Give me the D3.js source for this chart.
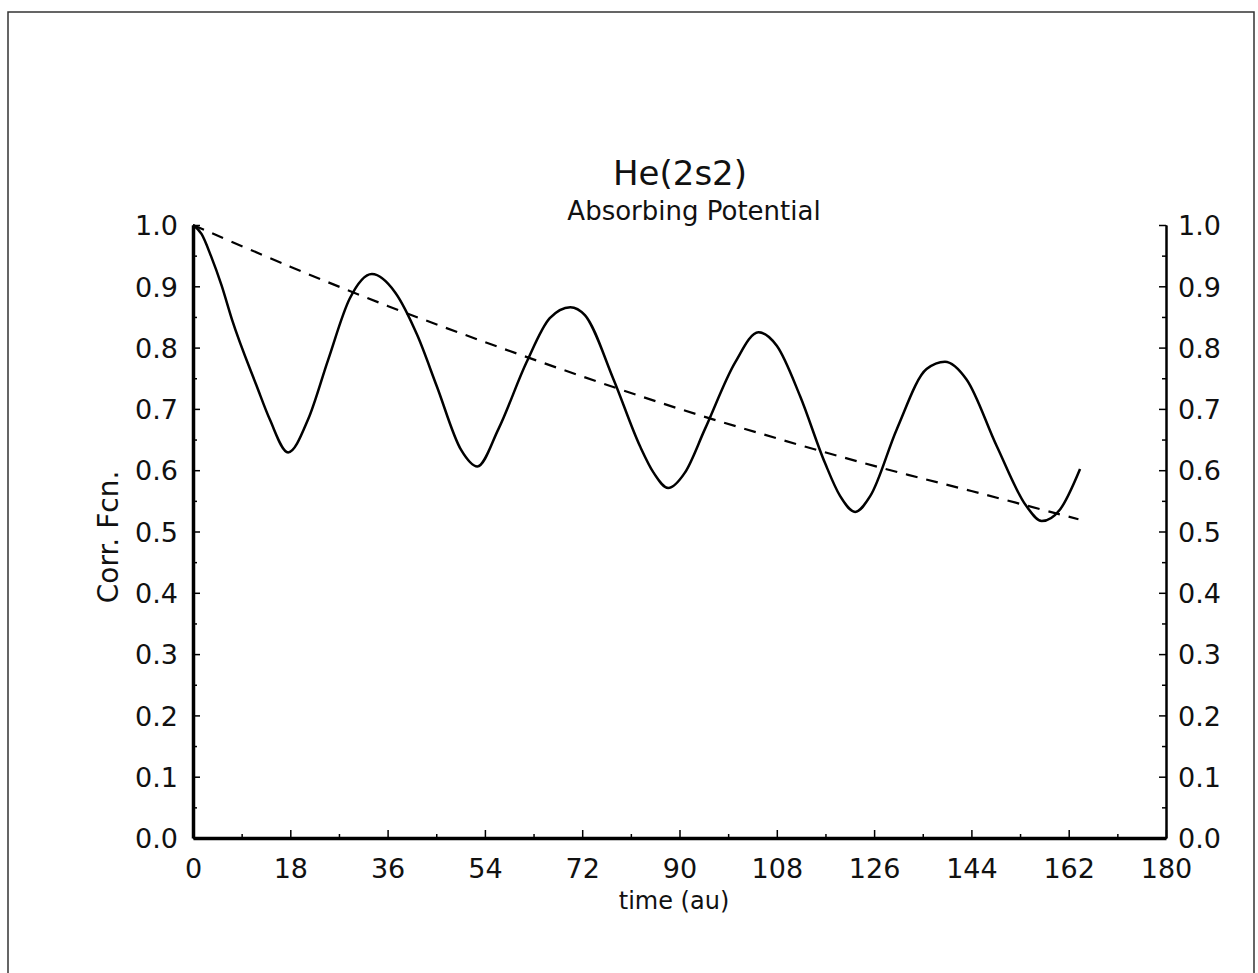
<!DOCTYPE html>
<html>
<head>
<meta charset="utf-8">
<script src="https://cdn.jsdelivr.net/npm/d3@7"></script>
<style>
  body { margin: 0; background: #fff; }
  svg { display: block; }
  text { font-family: "DejaVu Sans", sans-serif; fill: #111; }
</style>
</head>
<body>
<div id="chart"></div>
<script>

// correlation function, solid line (time in au)
const corrTime = [0, 1.6, 3.3, 5.3, 7.2, 11.8, 14.2, 17.6,
    21.3, 25.0, 29.0, 33.1,
    37.4, 41.5, 45.1, 49.6, 52.6,
    56.5, 61.7, 66.0, 69.8,
    72.5, 77.8, 82.7, 85.2, 87.9,
    91.0, 94.7, 100.3, 104.6,
    108.0, 112.3, 116.9, 119.7, 122.5,
    125.3, 130.2, 135.7, 139.1,
    143.1, 148.7, 154.2, 157.0,
    160.4, 164.1]
const corrValue = [1.0, 0.985, 0.950, 0.901, 0.846, 0.737, 0.683, 0.629,
    0.683, 0.780, 0.880, 0.920,
    0.890, 0.820, 0.737, 0.633, 0.606,
    0.667, 0.776, 0.848, 0.866,
    0.853, 0.748, 0.639, 0.596, 0.571,
    0.596, 0.667, 0.776, 0.825,
    0.803, 0.721, 0.612, 0.558, 0.532,
    0.558, 0.667, 0.765, 0.777,
    0.748, 0.639, 0.541, 0.517,
    0.536, 0.602]

// envelope, dashed line
const envTime = [0, 18, 36, 54, 72, 90, 108, 126, 144, 163.8]
const envValue = [1.0, 0.932, 0.868, 0.809, 0.753, 0.700, 0.652, 0.607, 0.566, 0.520]

const xMajorTicks = [0, 18, 36, 54, 72, 90, 108, 126, 144, 162, 180]
const xMinorTicks = [9, 27, 45, 63, 81, 99, 117, 135, 153, 171]
const yMajorTicks = [0, 0.1, 0.2, 0.3, 0.4, 0.5, 0.6, 0.7, 0.8, 0.9, 1.0]
const yMinorTicks = [0.05, 0.15, 0.25, 0.35, 0.45, 0.55, 0.65, 0.75, 0.85, 0.95]

const titleText = "He(2s2)"
const subtitleText = "Absorbing Potential"
const xLabel = "time (au)"
const yLabel = "Corr. Fcn."


var width = 1258
var height = 973

var svg = d3.select("#chart").append("svg")
    .attr("width", width)
    .attr("height", height)

// scan frame around the page
svg.append("path")
    .attr("d", "M8,973 L8,12 L1254,12 L1254,973")
    .attr("fill", "none")
    .attr("stroke", "#333")
    .attr("stroke-width", 1.5)

var x = d3.scaleLinear().domain([0, 180]).range([193, 1166])
var y = d3.scaleLinear().domain([0, 1]).range([838, 225])

const fmt = d3.format(".1f")

// minor ticks first, no labels
svg.append("g")
    .attr("transform", `translate(0,${y(0)})`)
    .call(d3.axisBottom(x).tickValues(xMinorTicks).tickSize(-4).tickFormat(""))
svg.append("g")
    .attr("transform", `translate(${x(0)},0)`)
    .call(d3.axisLeft(y).tickValues(yMinorTicks).tickSize(-4).tickFormat(""))
svg.append("g")
    .attr("transform", `translate(${x(180)},0)`)
    .call(d3.axisRight(y).tickValues(yMinorTicks).tickSize(-4).tickFormat(""))

const xAxis = svg.append("g")
    .attr("class", "axis")
    .attr("transform", `translate(0,${y(0)})`)
    .call(d3.axisBottom(x).tickValues(xMajorTicks).tickSize(-8).tickSizeOuter(0).tickPadding(21))

const yAxisL = svg.append("g")
    .attr("class", "axis")
    .attr("transform", `translate(${x(0)},0)`)
    .call(d3.axisLeft(y).tickValues(yMajorTicks).tickSize(-7).tickSizeOuter(0).tickPadding(15).tickFormat(fmt))

const yAxisR = svg.append("g")
    .attr("class", "axis")
    .attr("transform", `translate(${x(180)},0)`)
    .call(d3.axisRight(y).tickValues(yMajorTicks).tickSize(-7).tickSizeOuter(0).tickPadding(12).tickFormat(fmt))

svg.selectAll(".domain").attr("stroke", "#000")
svg.selectAll(".tick line").attr("stroke", "#000").attr("stroke-width", 1.5)
svg.selectAll(".axis text")
    .attr("font-size", 27)
    .attr("font-family", "DejaVu Sans")
    .attr("fill", "#111")
xAxis.select(".domain").attr("stroke-width", 3.5)
yAxisL.select(".domain").attr("stroke-width", 3.5)
yAxisR.select(".domain").attr("stroke-width", 2.5)
yAxisL.selectAll(".tick text").attr("dy", "0.36em")
yAxisR.selectAll(".tick text").attr("dy", "0.36em")

// curves
const corrData = corrTime.map((t, i) => [t, corrValue[i]])
const envData = envTime.map((t, i) => [t, envValue[i]])

const solidLine = d3.line()
    .x(d => x(d[0]))
    .y(d => y(d[1]))
    .curve(d3.curveMonotoneX)

const dashLine = d3.line()
    .x(d => x(d[0]))
    .y(d => y(d[1]))
    .curve(d3.curveCatmullRom.alpha(0.5))

svg.append("path")
    .datum(corrData)
    .attr("d", solidLine)
    .attr("fill", "none")
    .attr("stroke", "#000")
    .attr("stroke-width", 2.5)

svg.append("path")
    .datum(envData)
    .attr("d", dashLine)
    .attr("fill", "none")
    .attr("stroke", "#000")
    .attr("stroke-width", 2.2)
    .attr("stroke-dasharray", "12,9")

// titles
svg.append("text")
    .attr("x", 680)
    .attr("y", 185)
    .attr("text-anchor", "middle")
    .attr("font-size", 34)
    .text(titleText)

svg.append("text")
    .attr("x", 694)
    .attr("y", 220)
    .attr("text-anchor", "middle")
    .attr("font-size", 26)
    .text(subtitleText)

svg.append("text")
    .attr("x", 674)
    .attr("y", 909)
    .attr("text-anchor", "middle")
    .attr("font-size", 24)
    .text(xLabel)

svg.append("text")
    .attr("transform", "translate(118,537) rotate(-90)")
    .attr("text-anchor", "middle")
    .attr("font-size", 28)
    .text(yLabel)

</script>
</body>
</html>
